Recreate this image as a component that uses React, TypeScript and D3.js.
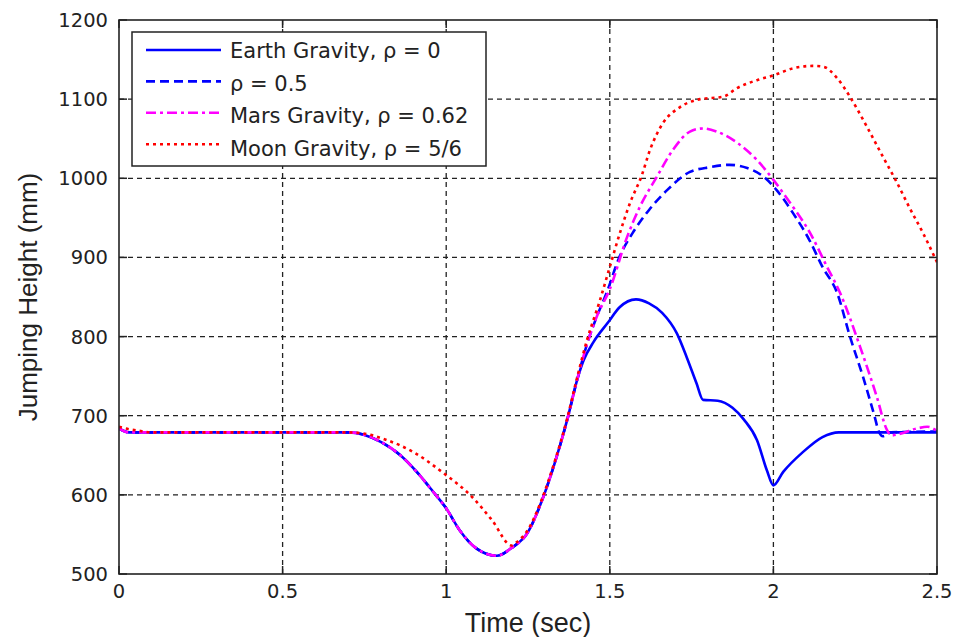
import React from 'react';
import * as d3 from 'd3';

// readings (time in s, height in mm)
const earthT = [0, 0.03, 0.7, 0.8, 0.86, 0.91, 0.96, 1.0, 1.04, 1.09, 1.155, 1.2, 1.25, 1.29, 1.33, 1.37, 1.4, 1.42, 1.45, 1.495, 1.53, 1.58, 1.62, 1.66, 1.705, 1.735, 1.765, 1.785, 1.83, 1.875, 1.91, 1.95, 1.98, 2.0, 2.03, 2.09, 2.15, 2.2, 2.5];
const earthH = [684, 679, 679, 667, 650, 629, 604, 583, 556, 533, 523, 533, 553, 590, 638, 695, 745, 770, 793, 818, 837, 847, 842, 830, 804, 774, 741, 720, 719, 710, 695, 669, 631, 612, 629, 654, 673, 679, 679];

const halfT = [0, 0.03, 0.7, 0.8, 0.86, 0.91, 0.96, 1.0, 1.04, 1.09, 1.155, 1.2, 1.25, 1.29, 1.33, 1.37, 1.4, 1.43, 1.46, 1.49, 1.53, 1.57, 1.62, 1.675, 1.745, 1.805, 1.865, 1.92, 1.97, 2.01, 2.06, 2.11, 2.15, 2.195, 2.234, 2.274, 2.31, 2.322, 2.335, 2.36, 2.5];
const halfH = [684, 679, 679, 667, 650, 629, 604, 583, 556, 533, 523, 533, 553, 590, 638, 695, 745, 790, 825, 855, 901, 931, 960, 985, 1008, 1014, 1017, 1013, 1002, 985, 956, 922, 888, 855, 800, 749, 698, 680, 674, 679, 680];

const marsT = [0, 0.03, 0.7, 0.8, 0.86, 0.91, 0.96, 1.0, 1.04, 1.09, 1.155, 1.2, 1.25, 1.29, 1.33, 1.37, 1.4, 1.43, 1.46, 1.5, 1.553, 1.592, 1.644, 1.693, 1.745, 1.785, 1.827, 1.889, 1.95, 2.0, 2.051, 2.112, 2.164, 2.204, 2.265, 2.316, 2.347, 2.36, 2.385, 2.44, 2.47, 2.5];
const marsH = [684, 679, 679, 667, 650, 629, 604, 583, 556, 533, 523, 533, 553, 590, 638, 695, 745, 790, 825, 860, 926, 964, 1002, 1036, 1059, 1063, 1059, 1045, 1023, 998, 969, 931, 888, 855, 787, 724, 682, 675, 677, 684, 686, 681];

const moonT = [0, 0.03, 0.06, 0.1, 0.7, 0.74, 0.82, 0.9, 0.99, 1.08, 1.14, 1.2, 1.215, 1.25, 1.29, 1.33, 1.37, 1.4, 1.43, 1.47, 1.5, 1.531, 1.562, 1.598, 1.623, 1.663, 1.715, 1.776, 1.846, 1.889, 1.95, 2.0, 2.06, 2.12, 2.152, 2.194, 2.234, 2.286, 2.335, 2.377, 2.417, 2.457, 2.5];
const moonH = [686, 683, 681, 679, 679, 678, 669, 654, 628, 597, 568, 536, 540, 556, 592, 640, 697, 748, 795, 846, 888, 931, 969, 1004, 1036, 1070, 1090, 1100, 1103, 1114, 1124, 1130, 1139, 1142, 1141, 1127, 1103, 1065, 1027, 995, 962, 931, 894];

const xTicks = [0, 0.5, 1, 1.5, 2, 2.5];
const yTicks = [500, 600, 700, 800, 900, 1000, 1100, 1200];
const legendLabels = ['Earth Gravity, ρ = 0', 'ρ = 0.5', 'Mars Gravity, ρ = 0.62', 'Moon Gravity, ρ = 5/6'];

const series = [
  { t: earthT, h: earthH, color: '#0000ff', dash: 'none' },
  { t: halfT, h: halfH, color: '#0000ff', dash: '9,5' },
  { t: marsT, h: marsH, color: '#ff00ff', dash: '10,4,3,4' },
  { t: moonT, h: moonH, color: '#ff0000', dash: '3,4' },
];

const W = 965;
const H = 637;
const left = 119, right = 937, top = 20, bottom = 574;

export default function App() {
  const x = d3.scaleLinear().domain([0, 2.5]).range([left, right]);
  const y = d3.scaleLinear().domain([500, 1200]).range([bottom, top]);
  const line = d3.line<[number, number]>()
    .x(d => x(d[0]))
    .y(d => y(d[1]))
    .curve(d3.curveMonotoneX);

  const tickFont = { fontFamily: 'DejaVu Sans', fontSize: 19.5, fill: '#222' };
  const tickLen = 8;

  return (
    <svg width={W} height={H} style={{ position: 'absolute', left: 0, top: 0, background: '#fff' }}>
      <rect x={0} y={0} width={W} height={H} fill="#fff" />
      {/* grid */}
      {xTicks.slice(1, -1).map(v => (
        <line key={'gx' + v} x1={x(v)} x2={x(v)} y1={top} y2={bottom} stroke="#222" strokeWidth={1.3} strokeDasharray="5,4" />
      ))}
      {yTicks.slice(1, -1).map(v => (
        <line key={'gy' + v} x1={left} x2={right} y1={y(v)} y2={y(v)} stroke="#222" strokeWidth={1.3} strokeDasharray="5,4" />
      ))}
      {/* tick marks */}
      {xTicks.map(v => (
        <g key={'tx' + v}>
          <line x1={x(v)} x2={x(v)} y1={bottom} y2={bottom - tickLen} stroke="#222" strokeWidth={1.5} />
          <line x1={x(v)} x2={x(v)} y1={top} y2={top + tickLen} stroke="#222" strokeWidth={1.5} />
          <text x={x(v)} y={598} textAnchor="middle" {...tickFont}>{v}</text>
        </g>
      ))}
      {yTicks.map(v => (
        <g key={'ty' + v}>
          <line x1={left} x2={left + tickLen} y1={y(v)} y2={y(v)} stroke="#222" strokeWidth={1.5} />
          <line x1={right} x2={right - tickLen} y1={y(v)} y2={y(v)} stroke="#222" strokeWidth={1.5} />
          <text x={108} y={y(v) + 7} textAnchor="end" {...tickFont}>{v}</text>
        </g>
      ))}
      {/* data */}
      <g clipPath="url(#plotclip)">
        {series.map((s, i) => (
          <path key={i} d={line(s.t.map((t, j) => [t, s.h[j]] as [number, number])) || ''}
            fill="none" stroke={s.color} strokeWidth={2.6} strokeDasharray={s.dash} strokeLinejoin="round" />
        ))}
      </g>
      <defs>
        <clipPath id="plotclip"><rect x={left} y={top} width={right - left} height={bottom - top} /></clipPath>
      </defs>
      <rect x={left} y={top} width={right - left} height={bottom - top} fill="none" stroke="#222" strokeWidth={1.6} />
      {/* legend */}
      <rect x={132} y={32} width={354} height={134} fill="#fff" stroke="#222" strokeWidth={1.5} />
      {series.map((s, i) => (
        <g key={'lg' + i}>
          <line x1={146} x2={221} y1={50 + i * 31.4} y2={50 + i * 31.4} stroke={s.color} strokeWidth={2.6} strokeDasharray={s.dash} />
          <text x={230} y={58 + i * 32.7} fontFamily="DejaVu Sans" fontSize={21} fill="#222">{legendLabels[i]}</text>
        </g>
      ))}
      {/* axis labels */}
      <text x={(left + right) / 2} y={632} textAnchor="middle" fontFamily="Liberation Sans, Arial" fontSize={27} fill="#222">Time (sec)</text>
      <text transform={`translate(37,${(top + bottom) / 2}) rotate(-90)`} textAnchor="middle" fontFamily="Liberation Sans, Arial" fontSize={26} fill="#222">Jumping Height (mm)</text>
    </svg>
  );
}
